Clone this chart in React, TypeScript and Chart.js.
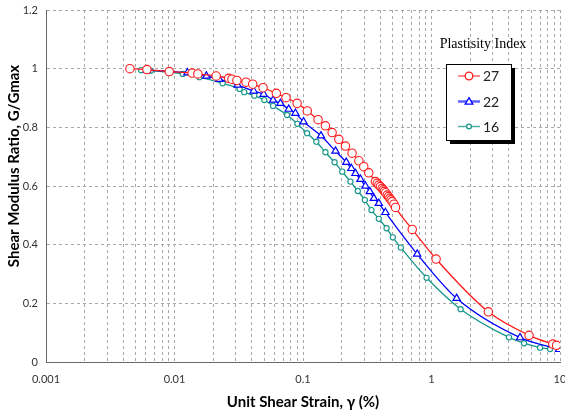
import React, { useEffect, useRef } from "react";
import { Chart, registerables } from "chart.js";

Chart.register(...registerables);

// ---- Data ----
const seriesLabels = ["27", "22", "16"];

const strain27 = [0.0045, 0.0061, 0.0091, 0.0137, 0.0152, 0.0211, 0.0264, 0.028, 0.0306, 0.036, 0.0406, 0.0489, 0.062, 0.0738, 0.09, 0.108, 0.131, 0.1495, 0.1685, 0.19, 0.214, 0.241, 0.272, 0.297, 0.325, 0.366, 0.378, 0.389, 0.4, 0.413, 0.422, 0.43, 0.44, 0.452, 0.463, 0.474, 0.484, 0.494, 0.51, 0.525, 0.708, 1.086, 2.77, 5.74, 8.79, 9.4];
const ratio27 = [1.0, 0.997, 0.99, 0.985, 0.982, 0.975, 0.967, 0.964, 0.96, 0.954, 0.947, 0.935, 0.916, 0.901, 0.882, 0.856, 0.826, 0.805, 0.782, 0.759, 0.736, 0.712, 0.686, 0.666, 0.645, 0.615, 0.609, 0.603, 0.598, 0.592, 0.587, 0.582, 0.577, 0.569, 0.564, 0.558, 0.553, 0.547, 0.538, 0.527, 0.452, 0.351, 0.171, 0.091, 0.061, 0.057];

const strain22 = [0.0061, 0.0126, 0.0177, 0.0223, 0.031, 0.0413, 0.0494, 0.0585, 0.0667, 0.0774, 0.0873, 0.101, 0.138, 0.179, 0.217, 0.238, 0.256, 0.28, 0.306, 0.331, 0.356, 0.389, 0.438, 0.774, 1.569, 4.89, 9.84];
const ratio22 = [0.995, 0.986, 0.975, 0.964, 0.944, 0.924, 0.913, 0.893, 0.882, 0.862, 0.848, 0.819, 0.771, 0.719, 0.681, 0.66, 0.643, 0.623, 0.6, 0.581, 0.558, 0.541, 0.51, 0.368, 0.217, 0.083, 0.043];

const strain16 = [0.0055, 0.00655, 0.0116, 0.0156, 0.0237, 0.0321, 0.0349, 0.0418, 0.05, 0.0585, 0.0752, 0.0904, 0.1076, 0.127, 0.1495, 0.176, 0.202, 0.234, 0.267, 0.303, 0.341, 0.389, 0.447, 0.5, 0.577, 0.916, 1.686, 4.01, 5.25, 7.0, 8.37];
const ratio16 = [0.995, 0.993, 0.982, 0.971, 0.95, 0.931, 0.92, 0.908, 0.893, 0.873, 0.842, 0.812, 0.78, 0.751, 0.715, 0.681, 0.649, 0.615, 0.583, 0.552, 0.518, 0.488, 0.456, 0.425, 0.39, 0.287, 0.18, 0.084, 0.064, 0.049, 0.044];

const xMajorTicks = [0.001, 0.01, 0.1, 1, 10];
const xMinorMultipliers = [1, 2, 3, 4, 5, 6, 7, 8, 9];
const yTicks = [0, 0.2, 0.4, 0.6, 0.8, 1, 1.2];

const xTitle = "Unit Shear Strain, γ (%)";
const yTitle = "Shear Modulus Ratio, G/Gmax";
const legendTitle = "Plastisity Index";

const colors = ["#ff1a1a", "#0000ff", "#16968a"];
const legendLineColors = ["#ff6060", "#6060ff", "#4fb0a6"];

const toPoints = (xs: number[], ys: number[]) => xs.map((x, i) => ({ x, y: ys[i] }));

const zeroPadding = (s: any) => {
  s.paddingLeft = 0;
  s.paddingRight = 0;
  s.paddingTop = 0;
  s.paddingBottom = 0;
};

export default function App() {
  const canvasRef = useRef<HTMLCanvasElement | null>(null);

  useEffect(() => {
    if (!canvasRef.current) return;

    const overlay = {
      id: "overlay",
      afterDraw(chart: any) {
        const ctx = chart.ctx as CanvasRenderingContext2D;
        ctx.save();
        // y axis title (drawn slightly above centre as in the reference)
        ctx.translate(14, 166);
        ctx.rotate(-Math.PI / 2);
        ctx.font = "bold 15px Lato";
        ctx.fillStyle = "#000";
        ctx.textAlign = "center";
        ctx.textBaseline = "middle";
        ctx.fillText(yTitle, 0, 0);
        ctx.restore();

        // legend
        ctx.save();
        const bx = 446, by = 64, bw = 65, bh = 76;
        ctx.fillStyle = "#000";
        ctx.fillRect(bx + 4, by + 4, bw, bh);
        ctx.fillStyle = "#fff";
        ctx.fillRect(bx, by, bw, bh);
        ctx.strokeStyle = "#000";
        ctx.lineWidth = 1;
        ctx.strokeRect(bx + 0.5, by + 0.5, bw, bh);

        ctx.font = "14px 'Liberation Serif'";
        ctx.fillStyle = "#000";
        ctx.textAlign = "center";
        ctx.textBaseline = "middle";
        ctx.fillText(legendTitle, 483, 44);

        const rowsY = [76, 101.5, 126.5];
        seriesLabels.forEach((lab, i) => {
          const y = rowsY[i];
          ctx.strokeStyle = legendLineColors[i];
          ctx.lineWidth = i === 1 ? 2.5 : 1.5;
          ctx.beginPath();
          ctx.moveTo(458, y);
          ctx.lineTo(480, y);
          ctx.stroke();
          ctx.lineWidth = 1.3;
          ctx.strokeStyle = colors[i];
          ctx.fillStyle = "#fff";
          ctx.beginPath();
          if (i === 0) {
            ctx.arc(469, y, 3.8, 0, Math.PI * 2);
          } else if (i === 1) {
            ctx.moveTo(469, y - 3.8);
            ctx.lineTo(472.8, y + 2.6);
            ctx.lineTo(465.2, y + 2.6);
            ctx.closePath();
          } else {
            ctx.arc(469, y, 2.4, 0, Math.PI * 2);
          }
          ctx.fill();
          ctx.stroke();
          ctx.font = "14px Lato";
          ctx.fillStyle = "#222";
          ctx.textAlign = "left";
          ctx.fillText(lab, 483, y + 0.5);
        });
        ctx.restore();
      },
    };

    const chart = new Chart(canvasRef.current, {
      type: "scatter",
      data: {
        datasets: [
          {
            label: seriesLabels[0],
            data: toPoints(strain27, ratio27),
            showLine: true,
            borderColor: colors[0],
            borderWidth: 1.3,
            pointStyle: "circle",
            pointRadius: 4.2,
            pointBorderWidth: 1.1,
            pointBackgroundColor: "#fff",
            pointBorderColor: colors[0],
            cubicInterpolationMode: "monotone",
          },
          {
            label: seriesLabels[1],
            data: toPoints(strain22, ratio22),
            showLine: true,
            borderColor: colors[1],
            borderWidth: 1.3,
            pointStyle: "triangle",
            pointRadius: 4.2,
            pointBorderWidth: 1.2,
            pointBackgroundColor: "#fff",
            pointBorderColor: colors[1],
            cubicInterpolationMode: "monotone",
          },
          {
            label: seriesLabels[2],
            data: toPoints(strain16, ratio16),
            showLine: true,
            borderColor: colors[2],
            borderWidth: 1.3,
            pointStyle: "circle",
            pointRadius: 2.6,
            pointBorderWidth: 1.1,
            pointBackgroundColor: "#fff",
            pointBorderColor: colors[2],
            cubicInterpolationMode: "monotone",
          },
        ],
      },
      options: {
        animation: false,
        responsive: true,
        maintainAspectRatio: false,
        layout: { padding: { top: 10, right: 5, left: 0, bottom: 0 }, autoPadding: false },
        plugins: {
          legend: { display: false },
          tooltip: { enabled: false },
        },
        scales: {
          x: {
            type: "logarithmic",
            min: 0.001,
            max: 10,
            afterFit: (s: any) => {
              s.height = 50;
              zeroPadding(s);
            },
            afterBuildTicks: (s: any) => {
              const t: { value: number }[] = [];
              xMajorTicks.forEach((m, i) => {
                if (i === xMajorTicks.length - 1) {
                  t.push({ value: m });
                } else {
                  xMinorMultipliers.forEach((k) => t.push({ value: +(m * k).toPrecision(3) }));
                }
              });
              s.ticks = t;
            },
            ticks: {
              autoSkip: false,
              maxRotation: 0,
              padding: 11,
              color: "#333",
              font: { family: "Lato", size: 11 },
              callback: (v: any) => {
                const val = Number(v);
                return xMajorTicks.some((m) => Math.abs(m - val) / m < 1e-6) ? String(val) : "";
              },
            },
            grid: {
              color: "#a8a8a8",
              lineWidth: 1,
              drawTicks: false,
            },
            border: { display: true, color: "#6a6a6a", width: 1, dash: [3, 3] },
            title: {
              display: true,
              text: xTitle,
              color: "#000",
              font: { family: "Lato", size: 15, weight: "bold" },
              padding: { top: 0, bottom: 1 },
            },
          },
          y: {
            type: "linear",
            min: 0,
            max: 1.2,
            afterFit: (s: any) => {
              s.width = 46;
              zeroPadding(s);
            },
            afterBuildTicks: (s: any) => {
              s.ticks = yTicks.map((v) => ({ value: v }));
            },
            ticks: {
              padding: 8,
              color: "#333",
              font: { family: "Lato", size: 11 },
              callback: (v: any) => String(Math.round(Number(v) * 10) / 10),
            },
            grid: {
              color: "#a8a8a8",
              lineWidth: 1,
              drawTicks: false,
            },
            border: { display: true, color: "#6a6a6a", width: 1, dash: [3, 3] },
            title: { display: false },
          },
        },
      } as any,
      plugins: [overlay],
    });

    return () => chart.destroy();
  }, []);

  return (
    <div style={{ position: "fixed", left: 0, top: 0, width: 565, height: 412, background: "#fff" }}>
      <canvas ref={canvasRef} />
    </div>
  );
}
